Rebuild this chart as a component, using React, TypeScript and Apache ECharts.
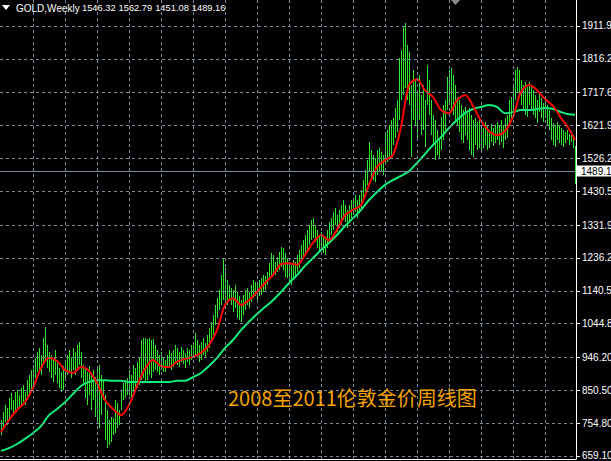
import React, { useEffect, useRef } from 'react';
import * as echarts from 'echarts';

// Weekly high / low of gold (USD/oz), one entry per weekly bar
const weeklyHigh = [
  764, 787, 808, 799, 828, 843, 822, 845,
  851, 837, 857, 866, 845, 880, 895, 910,
  924, 945, 962, 974, 953, 1003, 1035, 982,
  962, 953, 939, 968, 933, 915, 904, 921,
  939, 953, 968, 947, 974, 962, 982, 991,
  962, 924, 915, 904, 921, 895, 910, 889,
  915, 924, 895, 880, 837, 793, 764, 773,
  770, 822, 814, 793, 851, 872, 880, 886,
  910, 895, 924, 915, 933, 945, 997, 1003,
  1003, 1000, 1003, 997, 1000, 982, 968, 953,
  962, 945, 939, 953, 968, 959, 968, 982,
  974, 962, 977, 968, 959, 974, 968, 982,
  988, 1018, 997, 982, 991, 1003, 988, 1012,
  1032, 1050, 1070, 1099, 1119, 1143, 1186, 1236,
  1207, 1172, 1157, 1149, 1143, 1157, 1137, 1125,
  1113, 1128, 1143, 1149, 1137, 1157, 1172, 1166,
  1163, 1172, 1178, 1186, 1184, 1195, 1221, 1250,
  1245, 1224, 1239, 1253, 1268, 1265, 1250, 1236,
  1224, 1216, 1230, 1224, 1245, 1259, 1274, 1288,
  1303, 1318, 1332, 1347, 1353, 1332, 1318, 1303,
  1312, 1303, 1294, 1318, 1341, 1353, 1370, 1382,
  1361, 1376, 1390, 1405, 1390, 1376, 1390, 1405,
  1411, 1420, 1405, 1420, 1434, 1463, 1492, 1521,
  1574, 1551, 1536, 1527, 1551, 1556, 1545, 1536,
  1594, 1609, 1623, 1638, 1644, 1673, 1696, 1819,
  1842, 1909, 1921, 1857, 1836, 1740, 1784, 1755,
  1725, 1769, 1711, 1740, 1696, 1798, 1755, 1696,
  1653, 1638, 1609, 1580, 1647, 1682, 1696, 1763,
  1784, 1789, 1769, 1740, 1705, 1696, 1682, 1667,
  1676, 1658, 1673, 1653, 1638, 1644, 1632, 1638,
  1623, 1615, 1632, 1620, 1609, 1626, 1615, 1623,
  1632, 1620, 1638, 1623, 1644, 1653, 1696, 1705,
  1740, 1784, 1792, 1784, 1755, 1740, 1749, 1734,
  1749, 1740, 1725, 1711, 1696, 1720, 1702, 1688,
  1696, 1682, 1667, 1644, 1629, 1623, 1632, 1620,
  1615, 1609, 1603, 1609, 1597, 1606, 1594, 1562.79,
];
const weeklyLow = [
  720, 741, 758, 749, 770, 793, 778, 787,
  793, 799, 808, 816, 808, 822, 837, 851,
  866, 886, 904, 910, 895, 924, 939, 916,
  904, 886, 875, 895, 872, 857, 845, 851,
  880, 895, 904, 886, 910, 895, 916, 924,
  886, 866, 828, 808, 837, 793, 822, 773,
  764, 741, 778, 822, 706, 683, 691, 700,
  720, 726, 741, 749, 793, 822, 828, 837,
  837, 828, 845, 851, 857, 866, 880, 886,
  875, 880, 895, 886, 904, 910, 904, 895,
  910, 904, 904, 916, 921, 910, 918, 933,
  924, 918, 933, 927, 915, 933, 924, 939,
  945, 953, 947, 933, 939, 953, 945, 962,
  974, 991, 1012, 1041, 1061, 1084, 1099, 1113,
  1113, 1099, 1113, 1099, 1078, 1090, 1061, 1055,
  1050, 1070, 1084, 1099, 1090, 1108, 1119, 1125,
  1113, 1125, 1128, 1137, 1143, 1157, 1172, 1181,
  1192, 1186, 1195, 1201, 1210, 1201, 1181, 1178,
  1166, 1157, 1172, 1178, 1195, 1207, 1224, 1236,
  1245, 1259, 1274, 1288, 1294, 1283, 1265, 1253,
  1259, 1250, 1245, 1265, 1283, 1303, 1318, 1332,
  1312, 1324, 1332, 1347, 1341, 1324, 1341, 1353,
  1361, 1370, 1353, 1367, 1376, 1405, 1420, 1449,
  1487, 1469, 1463, 1457, 1478, 1487, 1487, 1478,
  1507, 1516, 1521, 1536, 1565, 1586, 1603, 1638,
  1696, 1711, 1731, 1696, 1682, 1530, 1638, 1623,
  1580, 1638, 1594, 1609, 1559, 1682, 1653, 1594,
  1565, 1521, 1536, 1527, 1551, 1580, 1609, 1667,
  1682, 1667, 1653, 1629, 1623, 1603, 1580, 1571,
  1594, 1580, 1551, 1536, 1530, 1565, 1551, 1556,
  1551, 1556, 1565, 1551, 1556, 1574, 1562, 1571,
  1580, 1565, 1574, 1556, 1580, 1586, 1623, 1638,
  1667, 1696, 1720, 1711, 1682, 1667, 1653, 1647,
  1682, 1667, 1653, 1644, 1629, 1661, 1644, 1632,
  1644, 1623, 1609, 1580, 1565, 1559, 1580, 1571,
  1565, 1559, 1571, 1580, 1565, 1574, 1556, 1451.08,
];

// Moving averages at every 4th week (and the last week)
const maWeeks = [
  0, 4, 8, 12, 16, 20, 24, 28, 32, 36, 40, 44, 48, 52, 56, 60, 64, 68, 72, 76,
  80, 84, 88, 92, 96, 100, 104, 108, 112, 116, 120, 124, 128, 132, 136, 140,
  144, 148, 152, 156, 160, 164, 168, 172, 176, 180, 184, 188, 192, 196, 200,
  204, 208, 212, 216, 220, 224, 228, 232, 236, 240, 244, 248, 252, 256, 260,
  264, 268, 272, 276, 280, 284, 287,
];
const fastMA = [
  729, 764, 793, 816, 857, 915, 945, 936, 910, 901, 918, 907, 872, 822, 796, 778,
  808, 863, 913, 939, 921, 918, 933, 942, 948, 959, 982, 1026, 1099, 1119, 1099,
  1113, 1137, 1163, 1186, 1218, 1221, 1216, 1245, 1280, 1303, 1288, 1318, 1361,
  1376, 1390, 1449, 1501, 1521, 1536, 1618, 1740, 1757, 1725, 1705, 1667, 1658,
  1696, 1711, 1679, 1635, 1606, 1594, 1606, 1647, 1720, 1740, 1725, 1699, 1679,
  1644, 1612, 1580,
];
const slowMA = [
  674, 682, 694, 709, 726, 746, 778, 796, 816, 840, 863, 875, 880, 880, 878, 878,
  875, 875, 875, 875, 875, 875, 878, 878, 889, 901, 921, 945, 974, 997, 1026,
  1050, 1073, 1093, 1113, 1137, 1163, 1186, 1213, 1236, 1259, 1280, 1303, 1329,
  1352, 1376, 1405, 1428, 1449, 1463, 1475, 1489, 1513, 1539, 1565, 1588, 1615,
  1638, 1658, 1670, 1676, 1682, 1676, 1658, 1661, 1667, 1667, 1670, 1673, 1670,
  1661, 1655, 1653,
];

const priceTicks = [
  659.1, 754.8, 850.5, 946.2, 1044.8, 1140.5, 1236.2, 1331.9, 1430.5, 1526.2,
  1621.9, 1717.6, 1816.2, 1911.9,
];
const gridWeeks = [16, 32, 48, 64, 80, 96, 112, 128, 144, 160, 176, 192, 208, 224, 240, 256, 272];
const lastBarOHLC = [1546.32, 1562.79, 1451.08, 1489.16];
const symbolName = 'GOLD,Weekly';
const captionText = '2008至2011伦敦金价周线图';

const weekLabels = weeklyHigh.map((_, i) => 'W' + (i + 1));

export default function App() {
  const ref = useRef<HTMLDivElement>(null);

  useEffect(() => {
    document.body.style.margin = '0';
    document.body.style.background = '#000';
    const chart = echarts.init(ref.current!, null, { renderer: 'svg' });
    const gridColor = '#778899';
    const font = '"Liberation Sans", Arial, sans-serif';
    const yMin = 650.3;
    const yMax = 1987.65;

    const option: any = {
      animation: false,
      backgroundColor: '#000000',
      grid: {
        left: 0,
        right: 35,
        top: 0,
        bottom: 2,
        containLabel: false,
        outerBoundsMode: 'none',
      },
      xAxis: {
        type: 'category',
        data: weekLabels,
        boundaryGap: true,
        axisLine: { show: true, lineStyle: { color: '#ffffff', width: 1 } },
        axisTick: { show: false },
        axisLabel: { show: false },
        splitLine: { show: false },
      },
      yAxis: [
        {
          type: 'value',
          position: 'right',
          min: yMin,
          max: yMax,
          scale: true,
          splitLine: { show: false },
          axisLine: { show: true, onZero: false, lineStyle: { color: '#ffffff', width: 1 } },
          axisTick: {
            show: true,
            length: 4,
            customValues: priceTicks,
            lineStyle: { color: '#ffffff' },
          },
          axisLabel: {
            show: true,
            customValues: priceTicks,
            formatter: (v: number) => v.toFixed(2),
            color: '#ffffff',
            fontFamily: font,
            fontSize: 10,
            margin: 6,
          },
        },
        {
          type: 'value',
          position: 'right',
          min: yMin,
          max: yMax,
          scale: true,
          splitLine: { show: false },
          axisLine: { show: false },
          axisTick: { show: false },
          axisLabel: {
            show: true,
            customValues: [lastBarOHLC[3]],
            formatter: (v: number) => v.toFixed(2),
            color: '#000000',
            backgroundColor: '#ffffff',
            fontFamily: font,
            fontSize: 10,
            lineHeight: 10,
            padding: [1, 6, 0, 4],
            margin: 1,
          },
        },
      ],
      series: [
        {
          type: 'line',
          data: [],
          z: 1,
          silent: true,
          markLine: {
            silent: true,
            symbol: ['none', 'none'],
            label: { show: false },
            lineStyle: { color: gridColor, type: [3, 3], width: 1 },
            data: [
              ...priceTicks.map((v) => ({ yAxis: v })),
              ...gridWeeks.map((w) => ({ xAxis: w })),
            ],
          },
        },
        {
          type: 'line',
          data: [],
          z: 1,
          silent: true,
          markLine: {
            silent: true,
            symbol: ['none', 'none'],
            lineStyle: { color: gridColor, type: 'solid', width: 1 },
            label: { show: false },
            data: [{ yAxis: lastBarOHLC[3] }],
          },
        },
        {
          type: 'custom',
          z: 2,
          silent: true,
          data: weeklyHigh.map((h, i) => [i, h, weeklyLow[i]]),
          encode: { x: 0, y: [1, 2] },
          renderItem: (_params: any, api: any) => {
            const i = api.value(0);
            const hi = api.coord([i, api.value(1)]);
            const lo = api.coord([i, api.value(2)]);
            const x = Math.round(hi[0]) + 0.5;
            return {
              type: 'line',
              shape: { x1: x, y1: Math.round(hi[1]), x2: x, y2: Math.round(lo[1]) },
              style: { stroke: '#2ee82e', lineWidth: 1 },
            };
          },
        },
        {
          type: 'line',
          z: 3,
          silent: true,
          showSymbol: false,
          symbol: 'none',
          smooth: 0.3,
          data: maWeeks.map((w, k) => [w, slowMA[k]]),
          lineStyle: { color: '#12ee7a', width: 2 },
        },
        {
          type: 'line',
          z: 4,
          silent: true,
          showSymbol: false,
          symbol: 'none',
          smooth: 0.3,
          data: maWeeks.map((w, k) => [w, fastMA[k]]),
          lineStyle: { color: '#ff0000', width: 2 },
        },
      ],
      graphic: [
        {
          type: 'polygon',
          shape: { points: [[2, 5], [10, 5], [6, 10]] },
          style: { fill: '#ffffff' },
        },
        {
          type: 'polygon',
          shape: { points: [[451, 0], [460, 0], [455.5, 5]] },
          style: { fill: '#8a8a8a' },
        },
        {
          type: 'text',
          x: 16,
          y: 8,
          style: {
            text: symbolName,
            fill: '#ffffff',
            font: '10px ' + font,
            textVerticalAlign: 'middle',
          },
        },
        ...lastBarOHLC.map((v, k) => ({
          type: 'text',
          x: 82 + k * 36.6,
          y: 8,
          style: {
            text: v.toFixed(2),
            fill: '#ffffff',
            font: '9.3px ' + font,
            textVerticalAlign: 'middle',
          },
        })),
        {
          type: 'text',
          x: 228,
          y: 397,
          z: 10,
          style: {
            text: captionText,
            fill: '#f5a300',
            font: '20px "Noto Sans CJK SC", sans-serif',
            textVerticalAlign: 'middle',
          },
        },
      ],
    };

    chart.setOption(option);
    return () => chart.dispose();
  }, []);

  return (
    <div
      ref={ref}
      style={{ position: 'fixed', left: 0, top: 0, width: 611, height: 461, background: '#000' }}
    />
  );
}
